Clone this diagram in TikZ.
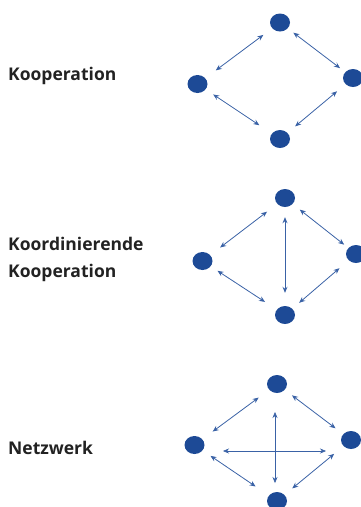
\documentclass[tikz,border=0pt]{standalone}
\usepackage{fontspec}
\setmainfont{Open Sans}
\usetikzlibrary{arrows.meta,shapes.geometric}
\definecolor{dotblue}{HTML}{1D4A96}
\definecolor{arrblue}{HTML}{3A62A6}
\definecolor{txt}{HTML}{222222}
\tikzset{
  dot/.style={ellipse,fill=dotblue,minimum width=20pt,minimum height=18pt,inner sep=0pt},
  arr/.style={draw=arrblue,line width=0.8pt,{Stealth[length=6pt,width=5pt]}-{Stealth[length=6pt,width=5pt]}},
  thinarr/.style={arr,line width=0.5pt},
  lbl/.style={anchor=base west,inner sep=0pt,text=txt,font=\fontsize{17.5}{27}\selectfont\bfseries},
  sh/.style 2 args={shorten <=#1pt,shorten >=#2pt}
}
\begin{document}
\begin{tikzpicture}[x=1pt,y=-1pt]
\useasboundingbox (0,0) rectangle (361,507);
% labels
\node[lbl] (k1) at (8,80) {Kooperation};
\node[lbl] (k2a) at (8,250) {Koordinierende};
\node[lbl] (k2b) at (8,277) {Kooperation};
\node[lbl] (k3) at (8,454) {Netzwerk};
% diagram 1
\node[dot] (T1) at (280,22.5) {};
\node[dot] (L1) at (197.5,84) {};
\node[dot] (R1) at (353,78) {};
\node[dot] (B1) at (280,139) {};
\draw[arr,sh={11}{13}] (T1) -- (L1);
\draw[arr,sh={7}{6.5}] (T1) -- (R1);
\draw[arr,sh={9}{15}] (L1) -- (B1);
\draw[arr,sh={11}{10}] (R1) -- (B1);
% diagram 2
\node[dot] (T2) at (285,198) {};
\node[dot] (L2) at (202.5,261) {};
\node[dot] (R2) at (356,254) {};
\node[dot] (B2) at (285,315) {};
\draw[arr,sh={12.8}{12.4}] (T2) -- (L2);
\draw[arr,sh={9}{5.3}] (T2) -- (R2);
\draw[arr,sh={8}{14}] (L2) -- (B2);
\draw[arr,sh={12}{9}] (R2) -- (B2);
\draw[arr,line width=1pt,sh={10}{13}] (T2) -- (B2);
% diagram 3
\node[dot] (T3) at (277,384) {};
\node[dot] (L3) at (194.5,445) {};
\node[dot] (R3) at (351,440) {};
\node[dot] (B3) at (277,501) {};
\draw[arr,sh={13}{12.8}] (T3) -- (L3);
\draw[arr,sh={9}{9.6}] (T3) -- (R3);
\draw[arr,sh={9.5}{16}] (L3) -- (B3);
\draw[arr,sh={12}{10}] (R3) -- (B3);
\coordinate (v1) at (275,412);
\coordinate (v2) at (275,483);
\coordinate (h1) at (223,451);
\coordinate (h2) at (326,451);
\draw[thinarr] (v1) -- (v2);
\draw[thinarr] (h1) -- (h2);
\end{tikzpicture}
\end{document}
